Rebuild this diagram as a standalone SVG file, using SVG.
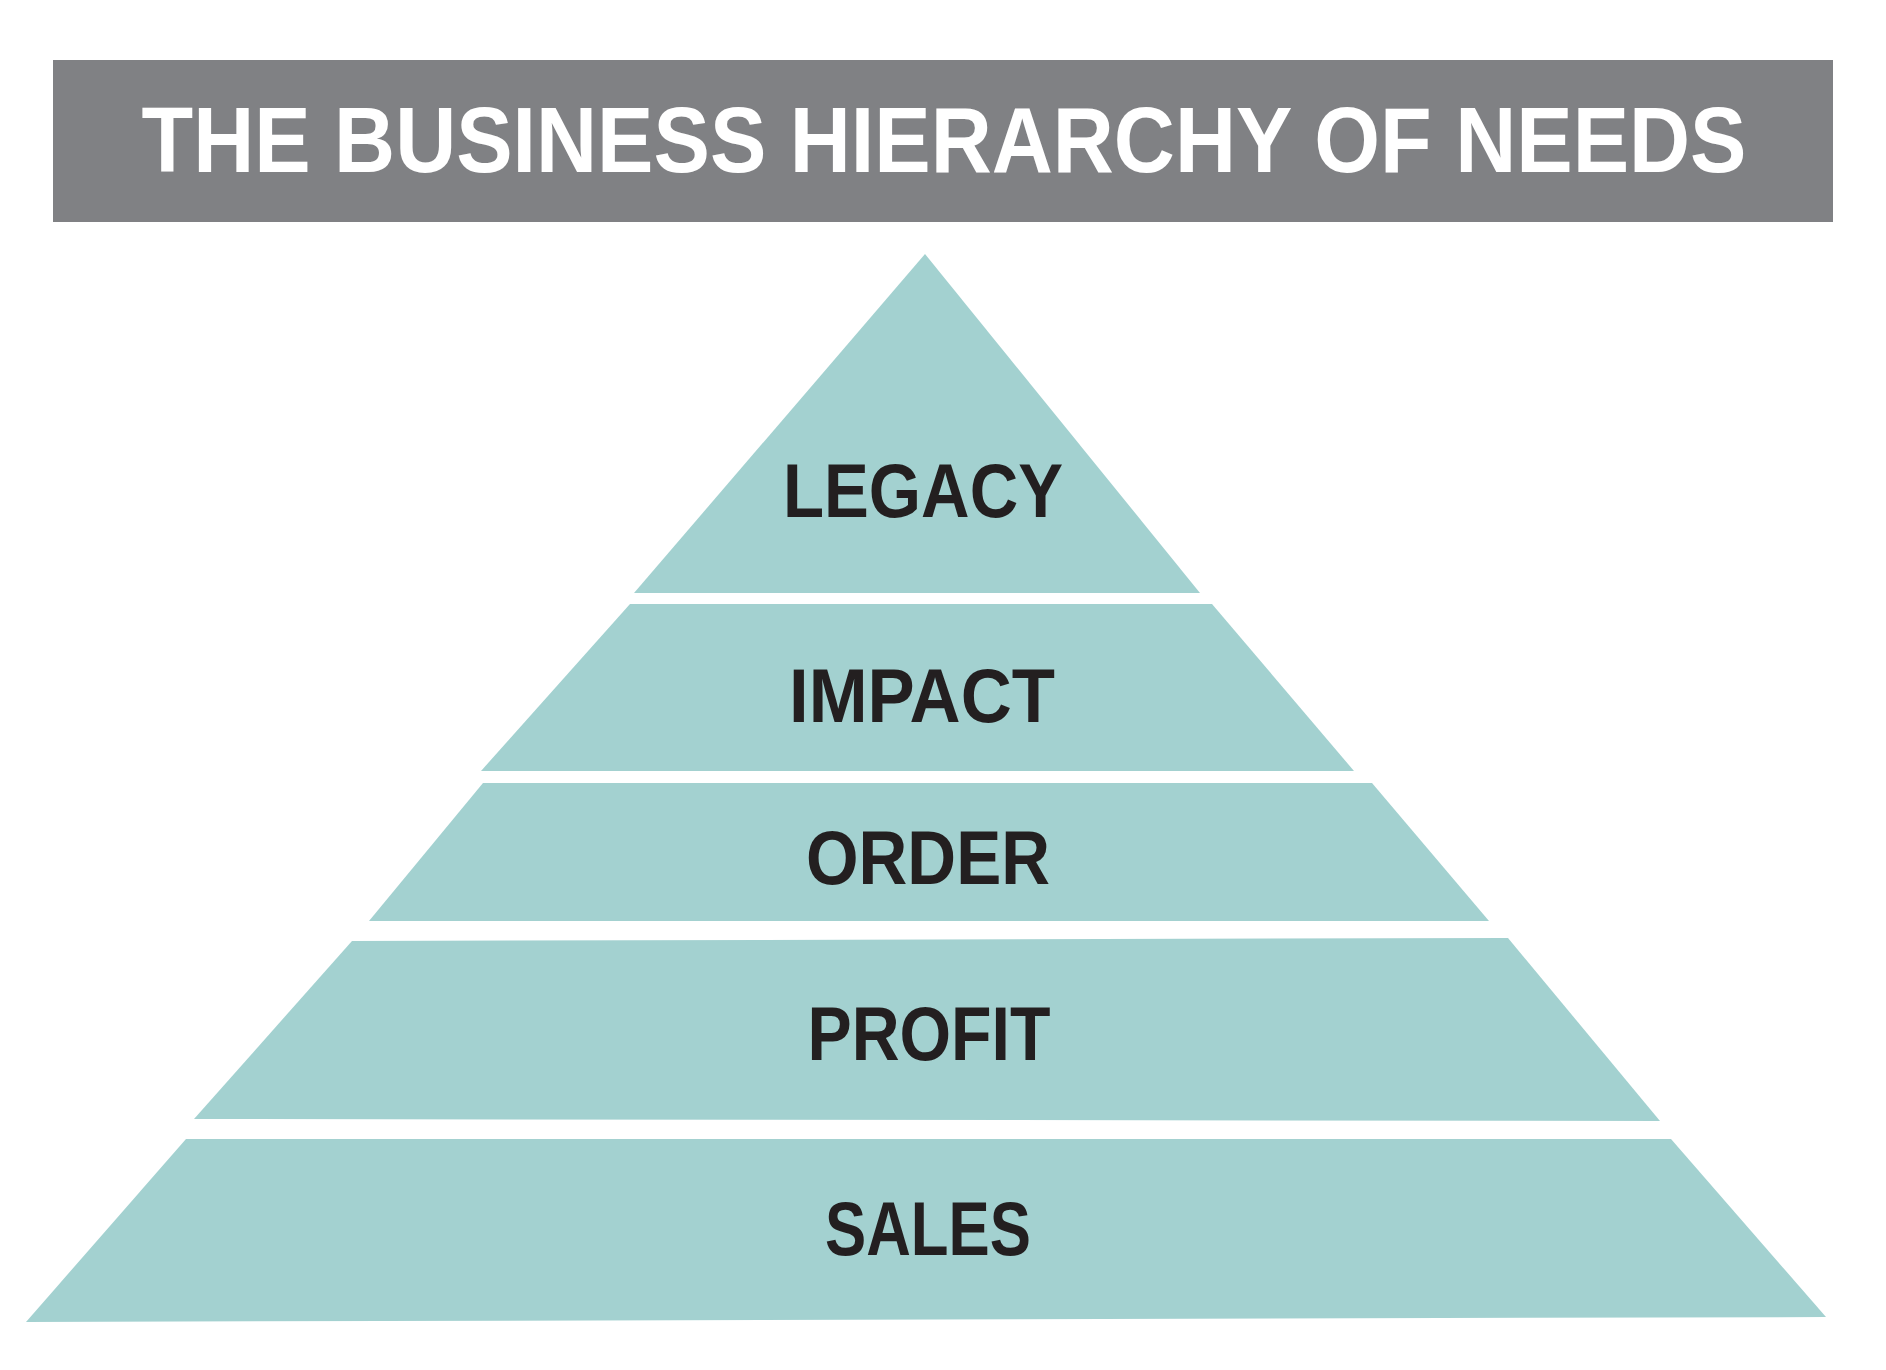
<svg xmlns="http://www.w3.org/2000/svg" width="1886" height="1370" viewBox="0 0 1886 1370">
<style>
.tier{fill:#a3d1d0}
.lbl{font-family:"Liberation Sans",Arial,sans-serif;font-weight:bold;font-size:76px;fill:#231f20;text-anchor:middle}
.title{font-family:"Liberation Sans",Arial,sans-serif;font-weight:bold;font-size:92px;fill:#ffffff;text-anchor:middle}
</style>
<rect width="1886" height="1370" fill="#ffffff"/>
<g id="header">
<rect x="53" y="60" width="1780" height="162" fill="#808184"/>
<text class="title" x="944" y="172" textLength="1605" lengthAdjust="spacingAndGlyphs">THE BUSINESS HIERARCHY OF NEEDS</text>
</g>
<g id="legacy">
<polygon class="tier" points="925,254 1200,593 634,593"/>
<text class="lbl" x="923" y="517" textLength="280" lengthAdjust="spacingAndGlyphs">LEGACY</text>
</g>
<g id="impact">
<polygon class="tier" points="630,604 1212,604 1354,771 481,771"/>
<text class="lbl" x="922" y="722" textLength="266" lengthAdjust="spacingAndGlyphs">IMPACT</text>
</g>
<g id="order">
<polygon class="tier" points="483,783 1372,783 1489,921 369,921"/>
<text class="lbl" x="928" y="884" textLength="244" lengthAdjust="spacingAndGlyphs">ORDER</text>
</g>
<g id="profit">
<polygon class="tier" points="352,941 1508,938 1660,1121 194,1119"/>
<text class="lbl" x="929" y="1060" textLength="243" lengthAdjust="spacingAndGlyphs">PROFIT</text>
</g>
<g id="sales">
<polygon class="tier" points="186,1139 1671,1139 1826,1317 26,1322"/>
<text class="lbl" x="928" y="1255" textLength="206" lengthAdjust="spacingAndGlyphs">SALES</text>
</g>
<g id="connectors"/>
</svg>
